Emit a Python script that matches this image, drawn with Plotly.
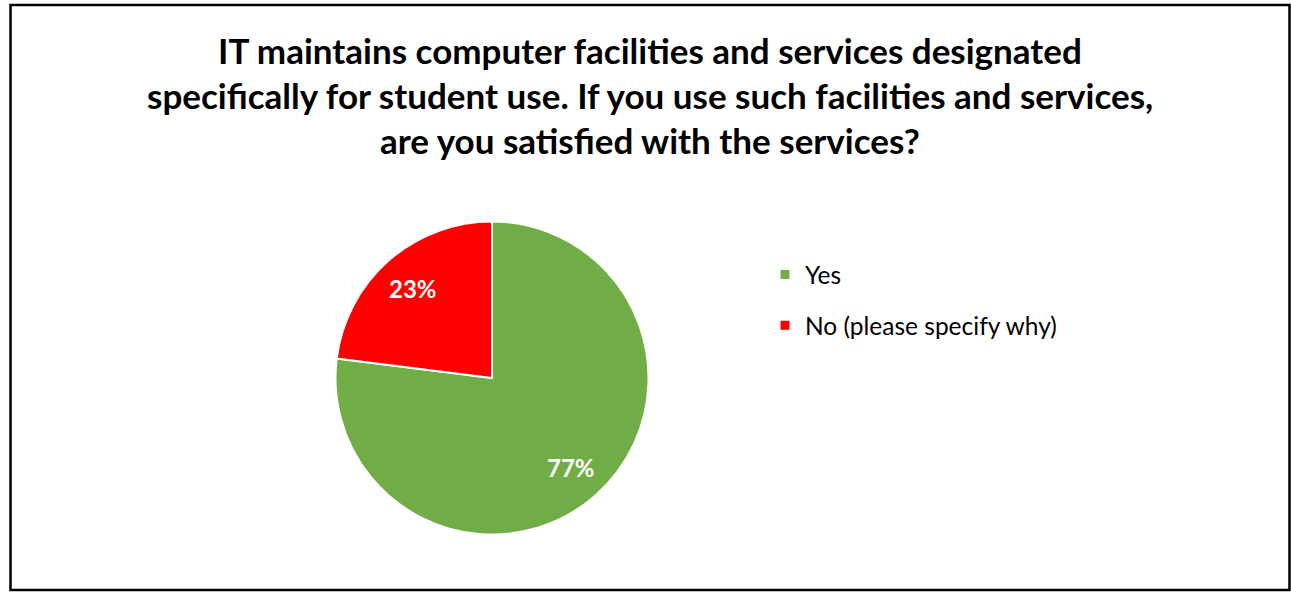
import math
import plotly.graph_objects as go

W, H = 1291, 592

labels = ["Yes", "No (please specify why)"]
values = [77, 23]
colors = ["#70AD47", "#FF0000"]

title_lines = [
    "IT maintains computer facilities and services designated",
    "specifically for student use. If you use such facilities and services,",
    "are you satisfied with the services?",
]

FONT = "Lato"

fig = go.Figure()

# pie placed as a square box in pixel terms
cx, cy, r = 492, 378, 156.5
fig.add_trace(go.Pie(
    labels=labels,
    values=values,
    sort=False,
    direction="clockwise",
    rotation=0,
    marker=dict(colors=colors, line=dict(color="white", width=2)),
    textinfo="none",
    showlegend=False,
    hoverinfo="label+percent",
    domain=dict(x=[(cx - r) / W, (cx + r) / W],
                y=[1 - (cy + r) / H, 1 - (cy - r) / H]),
))

# percentage labels at each slice's mid-angle
annotations = []
total = sum(values)
cum = 0.0
for v in values:
    mid = (cum + v / 2) / total * 2 * math.pi
    cum += v
    rr = 0.76 * r
    px = cx + rr * math.sin(mid)
    py = cy - rr * math.cos(mid)
    annotations.append(dict(
        x=px / W, y=1 - py / H, xref="paper", yref="paper",
        text=f"{round(100 * v / total)}%", showarrow=False,
        xanchor="center", yanchor="middle",
        font=dict(family=FONT, size=24, color="white", weight="bold"),
    ))

# title lines, one annotation per line for Office-like spacing
for i, line in enumerate(title_lines):
    annotations.append(dict(
        x=0.5035, y=1 - (50 + 45 * i) / H, xref="paper", yref="paper",
        text=line, showarrow=False, xanchor="center", yanchor="middle",
        font=dict(family=FONT, size=35, color="#000000", weight="bold"),
    ))

# legend entries as legend-only markers, one group each for spacing
for lab, col in zip(labels, colors):
    fig.add_trace(go.Scatter(
        x=[None], y=[None], mode="markers", name=lab,
        legendgroup=lab,
        marker=dict(symbol="square", size=9, color=col),
    ))

fig.update_layout(
    width=W, height=H,
    margin=dict(l=0, r=0, t=0, b=0),
    paper_bgcolor="white",
    plot_bgcolor="white",
    xaxis=dict(visible=False),
    yaxis=dict(visible=False),
    annotations=annotations,
    legend=dict(
        x=765 / W, y=1 - 252 / H, xanchor="left", yanchor="top",
        font=dict(family=FONT, size=24.5, color="#000000"),
        tracegroupgap=16,
        bgcolor="rgba(0,0,0,0)",
    ),
    shapes=[dict(
        type="rect", xref="paper", yref="paper",
        x0=10.5 / W, x1=1289.5 / W, y0=1 - 590 / H, y1=1 - 5 / H,
        line=dict(color="#000000", width=2.5),
        fillcolor="rgba(0,0,0,0)",
    )],
)

fig.write_html("out.html")
